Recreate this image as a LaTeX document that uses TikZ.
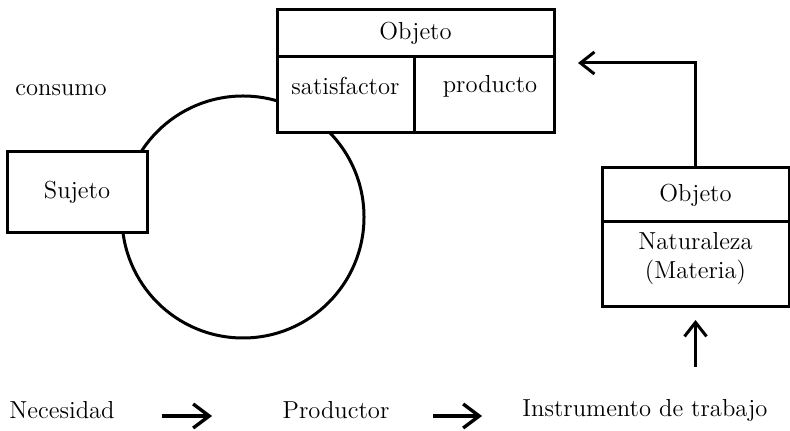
\documentclass[tikz,border=0pt]{standalone}
\usetikzlibrary{arrows.meta}
\begin{document}
\begin{tikzpicture}[x=0.5pt,y=-0.5pt,
 every node/.style={font=\fontsize{12.3}{14.5}\selectfont},
 box/.style={draw, line width=1.5pt, fill=white, inner sep=0pt, outer sep=0pt},
 lbl/.style={inner sep=1pt},
 arr/.style={line width=1.5pt, -{Straight Barb[length=7pt,width=11pt]}},
 bigarr/.style={line width=1.7pt, -{Straight Barb[length=8pt,width=12pt]}},
]
\useasboundingbox (0,0) rectangle (790,431);
% cycle
\node[circle, draw, line width=1.5pt, minimum size=121pt, inner sep=0pt, outer sep=0pt] (cyc) at (243,217) {};
% top object box
\node[box, minimum width=138.5pt, minimum height=23.5pt] (objA) at (415.5,33.5) {Objeto};
\node[box, minimum width=68.5pt, minimum height=38pt] (satC) at (345.5,95) {};
\node[box, minimum width=70pt, minimum height=38pt] (proC) at (484,95) {};
\node[lbl] (satT) at (345.5,86) {satisfactor};
\node[lbl] (proT) at (490,86) {producto};
% subject
\node[box, minimum width=70pt, minimum height=40.5pt] (suj) at (77,192.5) {Sujeto};
\node[lbl] (cons) at (61,90) {consumo};
% nature box
\node[box, minimum width=93.5pt, minimum height=27pt] (natH) at (695.5,195) {Objeto};
\node[box, minimum width=93.5pt, minimum height=42.5pt] (natB) at (695.5,264.5) {};
\node[lbl, align=center] (natT) at (695.5,259) {Naturaleza\\(Materia)};
% bottom row
\node[lbl] (nec) at (62,410) {Necesidad};
\node[lbl] (prod) at (336,410) {Productor};
\node[lbl] (inst) at (645,410) {Instrumento de trabajo};
% arrows
\coordinate (tipA) at (578,63);
\draw[arr] (natH.north) |- (tipA);
\coordinate (upS) at (695.5,367);
\draw[arr, shorten >=6.5pt] (upS) -- (natB.south);
\draw[bigarr, shorten <=50pt, shorten >=62pt] ([yshift=-3pt]nec.center) -- ([yshift=-3pt]prod.center);
\draw[bigarr, shorten <=48.5pt, shorten >=81.5pt] ([yshift=-3pt]prod.center) -- ([yshift=-3pt]inst.center);
\end{tikzpicture}
\end{document}
